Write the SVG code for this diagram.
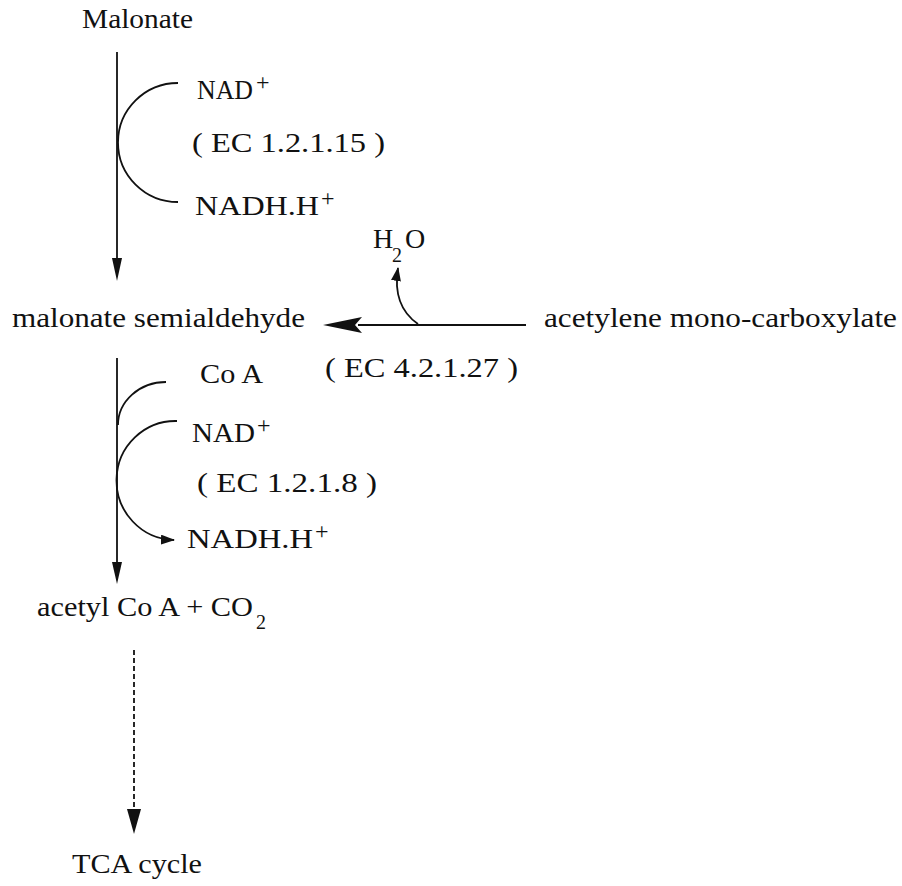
<svg xmlns="http://www.w3.org/2000/svg" width="902" height="886" viewBox="0 0 902 886">
<defs>
<style>
text{font-family:"Liberation Serif","Times New Roman",serif;font-size:28px;fill:#111}
.sup{font-size:24px}
.sub{font-size:20px}
.ln{stroke:#111;stroke-width:1.8;fill:none}
.ah{fill:#111;stroke:none}
</style>
<marker id="arr" viewBox="0 0 14 10" refX="13" refY="5" markerWidth="14" markerHeight="10" markerUnits="userSpaceOnUse" orient="auto">
<path d="M0,0 L14,5 L0,10 Z" fill="#111"/>
</marker>
</defs>
<rect width="902" height="886" fill="#fff"/>

<g id="connectors">
<line class="ln" x1="117" y1="52" x2="117" y2="260"/>
<polygon class="ah" points="112,258 122,258 117,281"/>
<path class="ln" d="M178,83 A60,59.5 0 0 0 178,202"/>

<line class="ln" x1="117" y1="358" x2="117" y2="564"/>
<polygon class="ah" points="112,562 122,562 117,584"/>
<path class="ln" d="M166,382 A48,43 0 0 0 118,425"/>
<path class="ln" d="M177,421 A59,59.5 0 0 0 174,540" marker-end="url(#arr)"/>

<line class="ln" x1="526" y1="325" x2="358" y2="325"/>
<polygon class="ah" points="323,325 362,317 355,325 362,333"/>
<path class="ln" d="M418,324 Q392,306 398,268" marker-end="url(#arr)"/>

<line class="ln" x1="134" y1="650" x2="134" y2="812" stroke-dasharray="5,3"/>
<polygon class="ah" points="127,809 141,809 134,834"/>
</g>

<g id="malonate"><text x="82" y="28" textLength="111" lengthAdjust="spacingAndGlyphs">Malonate</text></g>
<g id="nad1"><text x="197" y="99" textLength="56" lengthAdjust="spacingAndGlyphs">NAD</text><text class="sup" x="256" y="90">+</text></g>
<g id="ec1"><text x="192" y="152" textLength="193" lengthAdjust="spacingAndGlyphs">( EC 1.2.1.15 )</text></g>
<g id="nadh1"><text x="195" y="215" textLength="124" lengthAdjust="spacingAndGlyphs">NADH.H</text><text class="sup" x="321" y="206">+</text></g>

<g id="h2o"><text x="373" y="248">H</text><text class="sub" x="392" y="262">2</text><text x="405" y="248">O</text></g>
<g id="semialdehyde"><text x="12" y="327" textLength="293" lengthAdjust="spacingAndGlyphs">malonate semialdehyde</text></g>
<g id="acetylene"><text x="544" y="327" textLength="353" lengthAdjust="spacingAndGlyphs">acetylene mono-carboxylate</text></g>
<g id="ec2"><text x="325" y="377" textLength="193" lengthAdjust="spacingAndGlyphs">( EC 4.2.1.27 )</text></g>

<g id="coa"><text x="200" y="383" textLength="63" lengthAdjust="spacingAndGlyphs">Co A</text></g>
<g id="nad2"><text x="192" y="442" textLength="63" lengthAdjust="spacingAndGlyphs">NAD</text><text class="sup" x="257" y="433">+</text></g>
<g id="ec3"><text x="197" y="492" textLength="180" lengthAdjust="spacingAndGlyphs">( EC 1.2.1.8 )</text></g>
<g id="nadh2"><text x="187" y="548" textLength="126" lengthAdjust="spacingAndGlyphs">NADH.H</text><text class="sup" x="315" y="539">+</text></g>

<g id="acetylcoa"><text x="37" y="616" textLength="216" lengthAdjust="spacingAndGlyphs">acetyl Co A + CO</text><text class="sub" x="256" y="629">2</text></g>
<g id="tca"><text x="72" y="873" textLength="130" lengthAdjust="spacingAndGlyphs">TCA cycle</text></g>
</svg>
